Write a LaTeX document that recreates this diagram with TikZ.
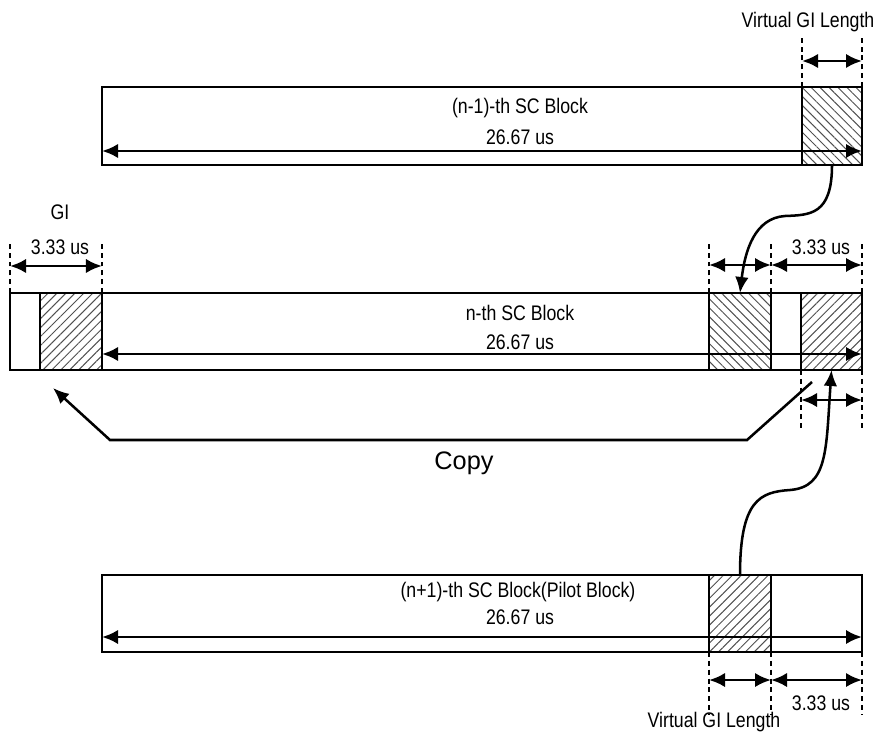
\documentclass[tikz,border=0pt]{standalone}
\usepackage{fontspec}
\setmainfont[FakeStretch=0.84]{Liberation Sans}
\newfontfamily\copyfont{Liberation Sans}
\usetikzlibrary{arrows.meta,positioning,fit,calc,patterns.meta}
\definecolor{hatchgray}{RGB}{80,80,80}
\tikzset{
  scblock/.style={draw, line width=1.6pt, inner sep=0pt, outer sep=0pt},
  gifwd/.style={scblock, pattern={Lines[angle=45, distance=4.5pt, line width=0.7pt]}, pattern color=hatchgray},
  giback/.style={scblock, pattern={Lines[angle=-45, distance=4.5pt, line width=0.7pt]}, pattern color=hatchgray},
  span/.style={{Latex[length=4mm,width=3.6mm]}-{Latex[length=4mm,width=3.6mm]}, line width=2pt},
  guide/.style={line width=1.2pt, dash pattern=on 3.5pt off 2.8pt},
  flow/.style={-{Latex[length=4mm,width=3.4mm]}, line width=1.8pt},
  lbl/.style={font=\fontsize{15}{18}\selectfont, inner sep=0pt}
}

\begin{document}
\begin{tikzpicture}[x=0.025cm, y=-0.025cm]
\useasboundingbox (0,0) rectangle (878,735);

% (n-1)-th block
\node[scblock, fit={(102,87) (862,165)}] (prev) {};
\node[giback, fit={(802,87) (862,165)}] (prevgi) {};
\node[lbl] (prevname) at (520,108) {(n-1)-th SC Block};
\node[lbl] (prevlen) at (520,137) {26.67 us};
\draw[span] ([yshift=0.35cm]prev.south west) -- ([yshift=0.35cm]prev.south east);

\draw[guide] (prevgi.north west) -- ++(0,-50);
\draw[guide] (prevgi.north east) -- ++(0,-50);
\draw[span] ([yshift=0.65cm]prevgi.north west) -- ([yshift=0.65cm]prevgi.north east);
\node[lbl] (prevvgi) at (808,22) {Virtual GI Length};

% n-th block
\node[scblock, fit={(10,293) (862,370)}] (cur) {};
\node[gifwd, fit={(40,293) (102,370)}] (cpgi) {};
\node[giback, fit={(709,293) (771,370)}] (vgi) {};
\node[gifwd, fit={(801,293) (862,370)}] (tailgi) {};
\node[lbl] (curname) at (520,313) {n-th SC Block};
\node[lbl] (curlen) at (520,342) {26.67 us};
\draw[span] ([yshift=0.4cm]cpgi.south east) -- ([yshift=0.4cm]cur.south east);

\draw[guide] (cur.north west) -- ++(0,-50);
\draw[guide] (cpgi.north east) -- ++(0,-50);
\draw[span] ([yshift=0.675cm]cur.north west) -- ([yshift=0.675cm]cpgi.north east);
\node[lbl] (gilen) at (60,247) {3.33 us};
\node[lbl] (giname) at (60,212) {GI};

\draw[guide] (vgi.north west) -- ++(0,-50);
\draw[guide] (vgi.north east) -- ++(0,-50);
\draw[guide] (cur.north east) -- ++(0,-50);
\draw[span] ([yshift=0.7cm]vgi.north west) -- ([yshift=0.7cm]vgi.north east);
\draw[span] ([yshift=0.7cm]vgi.north east) -- ([yshift=0.7cm]cur.north east);
\node[lbl] (taillen) at (821,247) {3.33 us};

\draw[guide] (tailgi.south west) -- ++(0,60);
\draw[guide] (tailgi.south east) -- ++(0,60);
\draw[span] ([yshift=-0.75cm]tailgi.south west) -- ([yshift=-0.75cm]tailgi.south east);

% copy of the tail into the GI
\coordinate (copyfrom) at (812,382);
\coordinate (copyto) at (53,388);
\draw[flow] (copyfrom) -- (747,440) -- (110,440) -- (copyto);
\node[font=\copyfont\fontsize{18}{21}\selectfont, inner sep=0pt] (copy) at (464,463) {Copy};

% (n+1)-th block
\node[scblock, fit={(102,575) (862,652)}] (next) {};
\node[gifwd, fit={(709,575) (771,652)}] (pilotgi) {};
\node[lbl] (nextname) at (518,592) {(n+1)-th SC Block(Pilot Block)};
\node[lbl] (nextlen) at (520,617) {26.67 us};
\draw[span] ([yshift=0.375cm]next.south west) -- ([yshift=0.375cm]next.south east);

\draw[guide] (pilotgi.south west) -- ++(0,63);
\draw[guide] (pilotgi.south east) -- ++(0,63);
\draw[guide] (next.south east) -- ++(0,63);
\draw[span] ([yshift=-0.7cm]pilotgi.south west) -- ([yshift=-0.7cm]pilotgi.south east);
\draw[span] ([yshift=-0.7cm]pilotgi.south east) -- ([yshift=-0.7cm]next.south east);
\node[lbl] (nextlen2) at (821,703) {3.33 us};
\node[lbl] (nextvgi) at (714,722) {Virtual GI Length};

% virtual GI sources
\draw[flow] (prevgi.south) .. controls (832,215) and (810,215) .. (785,216)
  .. controls (755,218) and (745,250) .. (vgi.north);
\draw[flow] (pilotgi.north) .. controls (740,500) and (760,492) .. (790,490)
  .. controls (828,487) and (826,450) .. (tailgi.south);
\end{tikzpicture}
\end{document}
